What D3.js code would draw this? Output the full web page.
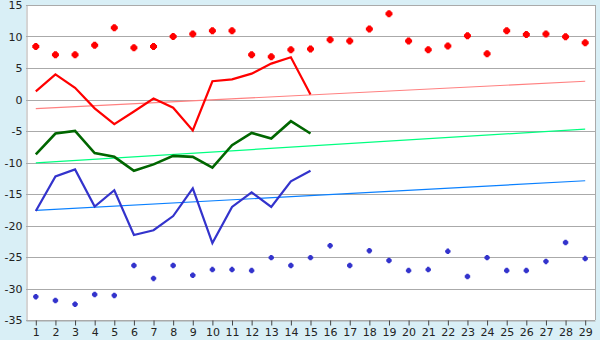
<!DOCTYPE html>
<html><head><meta charset="utf-8">
<script src="https://cdn.jsdelivr.net/npm/d3@7"></script>
<style>html,body{margin:0;padding:0;background:#d9eff6;}svg{display:block;}</style>
</head><body>
<svg id="c" width="600" height="340"></svg>
<script>
const categories = d3.range(1, 30);
const yTicks = [15, 10, 5, 0, -5, -10, -15, -20, -25, -30, -35];

const redPoints = [8.4, 7.1, 7.1, 8.6, 11.4, 8.2, 8.4, 10.0, 10.4, 10.9, 10.9, 7.1, 6.8, 7.9, 8.0, 9.5, 9.3, 11.2, 13.6, 9.3, 7.9, 8.5, 10.1, 7.25, 10.9, 10.3, 10.4, 9.95, 9.0];
const redLine = [1.3, 4.0, 1.85, -1.4, -3.9, -1.9, 0.15, -1.3, -4.9, 2.9, 3.2, 4.1, 5.7, 6.7, 0.8];
const redTrend = [-1.45, 2.9];

const greenLine = [-8.7, -5.4, -5.0, -8.5, -9.1, -11.3, -10.3, -8.95, -9.1, -10.8, -7.25, -5.3, -6.2, -3.45, -5.4];
const greenTrend = [-10.05, -4.7];

const blueLine = [-17.7, -12.2, -11.1, -17.0, -14.4, -21.5, -20.75, -18.5, -14.1, -22.8, -17.05, -14.75, -17.05, -13.0, -11.3];
const blueTrend = [-17.6, -12.9];
const bluePoints = [-31.3, -31.9, -32.5, -30.95, -31.1, -26.35, -28.4, -26.35, -27.9, -27.0, -27.0, -27.15, -25.1, -26.35, -25.1, -23.2, -26.35, -24.0, -25.55, -27.15, -27.0, -24.1, -28.1, -25.1, -27.15, -27.15, -25.7, -22.7, -25.25];

const svg = d3.select("#c");
const L = 26, R = 595, T = 5, B = 320;
const x = d3.scalePoint().domain(categories).range([L, R]).padding(0.5);
const y = d3.scaleLinear().domain([-35, 15]).range([B, T]);
const font = "'DejaVu Sans', Verdana, sans-serif";

svg.append("rect").attr("x", L).attr("y", T).attr("width", R - L).attr("height", B - T).attr("fill", "#fff");

// gridlines
svg.append("g").selectAll("line").data(yTicks).join("line")
  .attr("x1", L).attr("x2", R)
  .attr("y1", d => Math.round(y(d)) + 0.5).attr("y2", d => Math.round(y(d)) + 0.5)
  .attr("stroke", "#aaaaaa").attr("stroke-width", 1);

// border
svg.append("line").attr("x1", R + 0.5).attr("x2", R + 0.5).attr("y1", T).attr("y2", B).attr("stroke", "#aaaaaa");

// y axis
const yAxis = d3.axisLeft(y).tickValues(yTicks).tickSize(0).tickPadding(4).tickFormat(d => String(d));
const gy = svg.append("g").attr("transform", `translate(${L + 0.5},0)`).call(yAxis);
gy.select(".domain").attr("stroke", "#aaaaaa");
gy.selectAll("text").attr("font-family", font).attr("font-size", 11).attr("fill", "#222");

// x axis
const xAxis = d3.axisBottom(x).tickSize(5).tickSizeOuter(0).tickPadding(3);
const gx = svg.append("g").attr("transform", `translate(0,${B + 0.5})`).call(xAxis);
gx.select(".domain").attr("stroke", "#aaaaaa");
gx.selectAll(".tick line").attr("stroke", "#444");
gx.selectAll("text").attr("font-family", font).attr("font-size", 11).attr("fill", "#222");

const line = d3.line().x((d, i) => x(categories[i])).y(d => y(d));
const trend = (vals, color) => svg.append("line")
  .attr("x1", x(categories[0])).attr("x2", x(categories[categories.length - 1]))
  .attr("y1", y(vals[0])).attr("y2", y(vals[1]))
  .attr("stroke", color).attr("stroke-width", 1.2);

trend(redTrend, "#ff8080");
trend(greenTrend, "#00ff80");
trend(blueTrend, "#0a80ff");

svg.append("path").datum(redLine).attr("d", line).attr("fill", "none").attr("stroke", "#ff0000").attr("stroke-width", 2.2);
svg.append("path").datum(greenLine).attr("d", line).attr("fill", "none").attr("stroke", "#006600").attr("stroke-width", 2.6);
svg.append("path").datum(blueLine).attr("d", line).attr("fill", "none").attr("stroke", "#3333cc").attr("stroke-width", 2.2);

// chunky cross marker
const marker = "M-1.5,-3.5L1.5,-3.5L1.5,-2.5L2.5,-2.5L2.5,-1.5L3.5,-1.5L3.5,1.5L2.5,1.5L2.5,2.5L1.5,2.5L1.5,3.5L-1.5,3.5L-1.5,2.5L-2.5,2.5L-2.5,1.5L-3.5,1.5L-3.5,-1.5L-2.5,-1.5L-2.5,-2.5L-1.5,-2.5Z";
svg.append("g").selectAll("path").data(redPoints).join("path")
  .attr("transform", (d, i) => `translate(${x(categories[i])},${y(d)})`)
  .attr("d", marker).attr("fill", "#ff0000");
svg.append("g").selectAll("path").data(bluePoints).join("path")
  .attr("transform", (d, i) => `translate(${x(categories[i])},${y(d)}) scale(0.78)`)
  .attr("d", marker).attr("fill", "#3333cc");
</script>
</body></html>
